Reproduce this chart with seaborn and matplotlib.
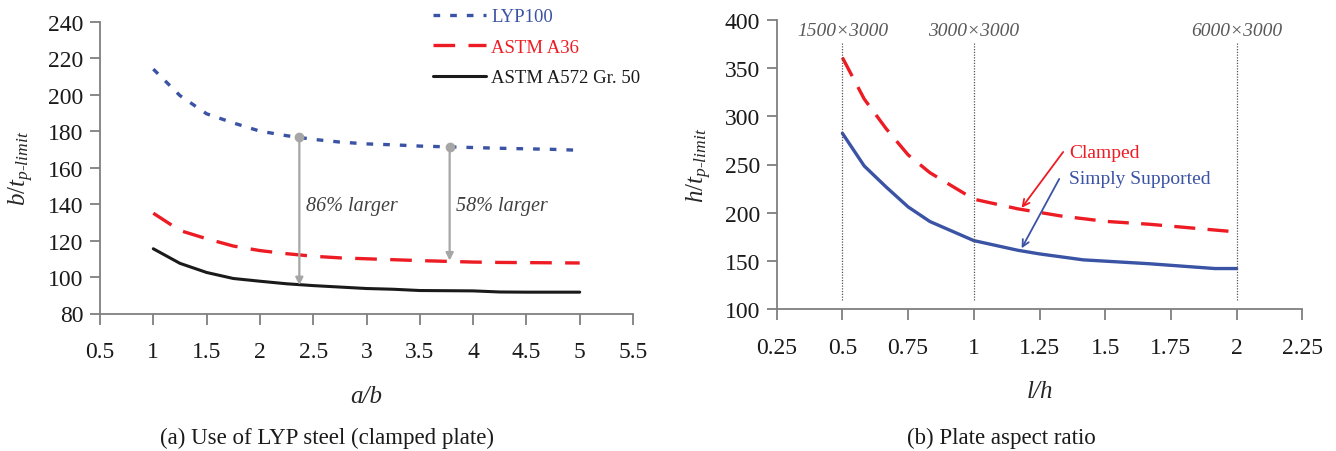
import numpy as np
import pandas as pd
import matplotlib
matplotlib.use("Agg")
import matplotlib.pyplot as plt
from matplotlib.ticker import FuncFormatter, MultipleLocator
import seaborn as sns

# ---------------- data: panel (a) ----------------
ab = [1.0, 1.25, 1.5, 1.75, 2.0, 2.25, 2.5, 2.75, 3.0, 3.25, 3.5, 3.75, 4.0, 4.25, 4.5, 4.75, 5.0]
lyp100 = [214, 199.5, 189.5, 184.5, 180, 177.5, 175.5, 174, 173, 172.5, 171.8, 171.4, 171, 170.6, 170.3, 170, 169.5]
a36 = [135, 125.5, 121, 117, 114.5, 112.8, 111.4, 110.5, 110, 109.5, 109, 108.6, 108.2, 108, 107.9, 107.8, 107.7]
a572 = [115.5, 107.5, 102.5, 99.2, 97.7, 96.3, 95.3, 94.5, 93.7, 93.3, 92.6, 92.5, 92.4, 91.8, 91.7, 91.7, 91.7]
series_a = ["LYP100", "ASTM A36", "ASTM A572 Gr. 50"]

arrow_x = [2.37, 3.78]
arrow_top = [177, 171.5]
arrow_bottom = [95.5, 109]
arrow_text = ["86% larger", "58% larger"]

# ---------------- data: panel (b) ----------------
lh_ss = [0.5, 0.583, 0.667, 0.75, 0.833, 1.0, 1.167, 1.25, 1.417, 1.667, 1.917, 2.0]
ss = [282.4, 248.5, 226.5, 206, 190.8, 171, 161, 157.2, 151, 147, 142, 142]
lh_cl = [0.5, 0.583, 0.667, 0.75, 0.833, 1.0, 1.167, 1.333, 1.5, 1.667, 1.833, 2.0]
clamped = [361, 318, 287, 260, 241.5, 214, 204, 196.5, 191, 188, 184, 180]
ref_lh = [0.5, 1.0, 2.0]
ref_labels = ["1500\u00d73000", "3000\u00d73000", "6000\u00d73000"]

# ---------------- style ----------------
sns.set_style("ticks")
plt.rcParams["font.family"] = ["Liberation Serif", "DejaVu Serif"]
plt.rcParams["mathtext.fontset"] = "custom"
plt.rcParams["mathtext.rm"] = "Liberation Serif"
plt.rcParams["mathtext.it"] = "Liberation Serif:italic"

BLUE = "#3a53a4"
RED = "#ed1c24"
BLACK = "#1a1a1a"
SPINE = "#7f7f7f"
ARROW = "#a6a6a6"

W, H = 1336, 452
fig = plt.figure(figsize=(W / 100, H / 100), dpi=100)
axA = fig.add_axes([100 / W, 1 - 314.5 / H, 533 / W, 291.8 / H])
axB = fig.add_axes([776.7 / W, 1 - 310 / H, 525.6 / W, 289 / H])

fmt = FuncFormatter(lambda v, p: "%g" % v)

def style_axis(ax):
    sns.despine(ax=ax)
    for s in ("left", "bottom"):
        ax.spines[s].set_color(SPINE)
        ax.spines[s].set_linewidth(1.3)
    ax.tick_params(axis="both", colors=SPINE, width=1.3, labelcolor="#1a1a1a", labelsize=17)
    ax.tick_params(axis="x", length=8, pad=12)
    ax.tick_params(axis="y", length=7, pad=5)
    ax.xaxis.set_major_formatter(fmt)
    ax.yaxis.set_major_formatter(fmt)

# ---------------- panel (a) ----------------
dfa = pd.DataFrame({"ab": ab, "LYP100": lyp100, "ASTM A36": a36, "ASTM A572 Gr. 50": a572})
sns.lineplot(data=dfa, x="ab", y="LYP100", ax=axA, color=BLUE, lw=2.4,
             linestyle=(0, (2, 3)), label=series_a[0])
sns.lineplot(data=dfa, x="ab", y="ASTM A36", ax=axA, color=RED, lw=2.4,
             linestyle=(0, (6.5, 4)), label=series_a[1])
sns.lineplot(data=dfa, x="ab", y="ASTM A572 Gr. 50", ax=axA, color=BLACK, lw=2.2,
             label=series_a[2])

for x, yt, yb, t in zip(arrow_x, arrow_top, arrow_bottom, arrow_text):
    axA.annotate("", xy=(x, yb), xytext=(x, yt),
                 arrowprops=dict(arrowstyle="-|>", color=ARROW, lw=1.6,
                                 mutation_scale=11, shrinkA=0, shrinkB=0))
    axA.plot([x], [yt], marker="o", ms=6, color=ARROW, zorder=5)
    axA.text(x + 0.06, 139, t, fontsize=14.5, style="italic", color="#404040",
             va="center", ha="left")

axA.set_xlim(0.5, 5.5)
axA.set_ylim(80, 240)
axA.xaxis.set_major_locator(MultipleLocator(0.5))
axA.yaxis.set_major_locator(MultipleLocator(20))
style_axis(axA)
axA.set_xlabel("a/b", fontsize=18, style="italic")
axA.set_ylabel(r"$b/t_{p\text{-}limit}$", fontsize=18)
axA.xaxis.set_label_coords(0.5, -0.245)
axA.yaxis.set_label_coords(-0.12, 0.5)

leg = axA.legend(loc="upper left", bbox_to_anchor=(433 / W, 1 - 9 / H),
                 bbox_transform=fig.transFigure, frameon=False, fontsize=13.5,
                 handlelength=2.85, handletextpad=0.25, labelspacing=0.72,
                 borderpad=0, borderaxespad=0, labelcolor="linecolor")

fig.text(327 / W, 1 - 438 / H, "(a) Use of LYP steel (clamped plate)",
         fontsize=16.5, ha="center", va="center", color="#1a1a1a")

# ---------------- panel (b) ----------------
dfs = pd.DataFrame({"lh": lh_ss, "val": ss})
dfc = pd.DataFrame({"lh": lh_cl, "val": clamped})
sns.lineplot(data=dfc, x="lh", y="val", ax=axB, color=RED, lw=2.4,
             linestyle=(0, (6.3, 3.7)))
sns.lineplot(data=dfs, x="lh", y="val", ax=axB, color=BLUE, lw=2.4)

for x, lab in zip(ref_lh, ref_labels):
    axB.vlines(x, 109, 376, colors="#555555", lw=0.9, linestyles=(0, (1, 1.2)))
    axB.text(x, 389, lab, fontsize=14, style="italic", color="#595959",
             ha="center", va="center")

axB.annotate("", xy=(1.182, 205), xytext=(1.34, 263),
             arrowprops=dict(arrowstyle="->", color=RED, lw=1.3,
                             mutation_scale=12, shrinkA=0, shrinkB=0))
axB.annotate("", xy=(1.182, 163), xytext=(1.325, 235),
             arrowprops=dict(arrowstyle="->", color=BLUE, lw=1.3,
                             mutation_scale=12, shrinkA=0, shrinkB=0))
axB.text(1.363, 262, "Clamped", fontsize=14, color=RED, ha="left", va="center")
axB.text(1.363, 235, "Simply Supported", fontsize=14, color=BLUE, ha="left", va="center")

axB.set_xlim(0.25, 2.25)
axB.set_ylim(100, 400)
axB.xaxis.set_major_locator(MultipleLocator(0.25))
axB.yaxis.set_major_locator(MultipleLocator(50))
style_axis(axB)
axB.set_xlabel("l/h", fontsize=18, style="italic")
axB.set_ylabel(r"$h/t_{p\text{-}limit}$", fontsize=18)
axB.xaxis.set_label_coords(0.5, -0.245)
axB.yaxis.set_label_coords(-0.12, 0.5)

fig.text(1001 / W, 1 - 438 / H, "(b) Plate aspect ratio",
         fontsize=16.5, ha="center", va="center", color="#1a1a1a")

fig.savefig("out.png", dpi=100)
